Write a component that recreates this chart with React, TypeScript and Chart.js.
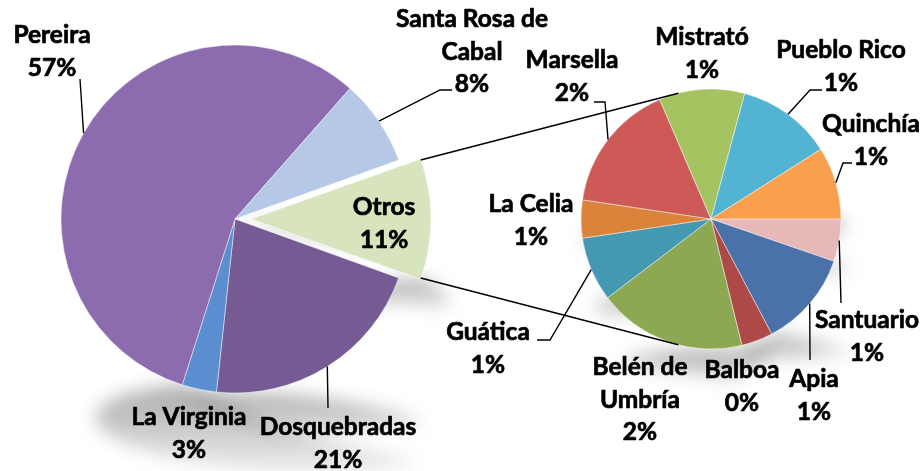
import React, { useEffect, useRef } from 'react';
import { Chart, registerables } from 'chart.js';

Chart.register(...registerables);

// ---------- data ----------
const mainCategories = ['Otros', 'Dosquebradas', 'La Virginia', 'Pereira', 'Santa Rosa de Cabal'];
const mainValues = [11.0, 21.2, 3.2, 56.6, 8.0];

const otherCategories = [
  'Santuario', 'Apia', 'Balboa', 'Belén de Umbría', 'Guática',
  'La Celia', 'Marsella', 'Mistrató', 'Pueblo Rico', 'Quinchía',
];
const otherValues = [0.58, 1.32, 0.43, 2.03, 0.88, 0.52, 1.78, 1.17, 1.30, 0.99];

// ---------- styles ----------
const mainColors = ['#D7E4BD', '#765A93', '#5A8ED0', '#8C6CAF', '#B5C8E6'];
const otherColors = [
  '#E6B8B7', '#4A72A8', '#AD4A47', '#8CA852', '#4498B2',
  '#D9843A', '#CE5A57', '#A5C461', '#52B4D2', '#F8A04E',
];

const FONT = 'Lato, "Open Sans", sans-serif';
const FW = 'bold';
const FS = 24.5;
const LH = 32.5;
const EXPLODE_PX = 22;

const nameBreaks: Record<string, string[]> = {
  'Santa Rosa de Cabal': ['Santa Rosa de', 'Cabal'],
  'Belén de Umbría': ['Belén de', 'Umbría'],
};

type LabelSpec = { x: number; y: number; leader?: number[][] };

// label layout (center x, first baseline y, optional leader elbow points)
const mainLabelLayout: LabelSpec[] = [
  { x: 384, y: 215 },
  { x: 338, y: 435, leader: [[328, 408]] },
  { x: 189, y: 425 },
  { x: 52, y: 43, leader: [[80, 79]] },
  { x: 472, y: 27, leader: [[452, 90], [440, 90]] },
];
const otherLabelLayout: LabelSpec[] = [
  { x: 867, y: 328, leader: [[841, 303]] },
  { x: 814, y: 387, leader: [[810, 360]] },
  { x: 742, y: 378 },
  { x: 640, y: 375 },
  { x: 488, y: 340, leader: [[537, 340], [550, 340]] },
  { x: 531, y: 212 },
  { x: 572, y: 68, leader: [[594, 102], [605, 102]] },
  { x: 702, y: 45 },
  { x: 841, y: 58, leader: [[822, 90], [810, 90]] },
  { x: 871, y: 132, leader: [[852, 163], [843, 163]] },
];

const sum = (a: number[]) => a.reduce((s, v) => s + v, 0);
const TOTAL = sum(mainValues);

function shadowPlugin(explodeIdx: number) {
  return {
    id: 'pshadow',
    beforeDatasetsDraw(chart: any) {
      const ctx: CanvasRenderingContext2D = chart.ctx;
      const meta = chart.getDatasetMeta(0);
      meta.data.forEach((el: any, i: number) => {
        const { x, y, startAngle, endAngle, outerRadius: r } = el;
        const mid = (startAngle + endAngle) / 2;
        const d = i === explodeIdx ? EXPLODE_PX : 0;
        const cx = x + Math.cos(mid) * d;
        const cy = y + Math.sin(mid) * d;
        const pts: number[][] = [[cx, cy]];
        const n = 48;
        for (let k = 0; k <= n; k++) {
          const a = startAngle + ((endAngle - startAngle) * k) / n;
          pts.push([cx + r * Math.cos(a), cy + r * Math.sin(a)]);
        }
        const top = Math.min(...pts.map((p) => p[1]));
        const bottom = Math.max(...pts.map((p) => p[1]));
        const K = 0.26;
        const S = 0.9;
        const tp = pts.map(([px, py]) => {
          const ny = bottom + (bottom - py) * K;
          return [px + (ny - bottom) * S, ny];
        });
        const far = bottom + (bottom - top) * K;
        ctx.save();
        ctx.filter = 'blur(9px)';
        const g = ctx.createLinearGradient(0, bottom, 0, far + 4);
        g.addColorStop(0, 'rgba(0,0,0,0.34)');
        g.addColorStop(1, 'rgba(0,0,0,0.05)');
        ctx.fillStyle = g;
        ctx.beginPath();
        tp.forEach(([px, py], k) => (k === 0 ? ctx.moveTo(px, py) : ctx.lineTo(px, py)));
        ctx.closePath();
        ctx.fill();
        ctx.restore();
      });
    },
  };
}

function labelPlugin(cats: string[], vals: number[], layout: LabelSpec[]) {
  return {
    id: 'plabels',
    afterDraw(chart: any) {
      const ctx: CanvasRenderingContext2D = chart.ctx;
      const meta = chart.getDatasetMeta(0);
      ctx.save();
      ctx.font = `${FW} ${FS}px ${FONT}`;
      ctx.fillStyle = '#000';
      ctx.textAlign = 'center';
      ctx.textBaseline = 'alphabetic';
      ctx.strokeStyle = '#000';
      cats.forEach((c, i) => {
        const spec = layout[i];
        const lines = [...(nameBreaks[c] || [c]), `${Math.round((vals[i] / TOTAL) * 100)}%`];
        ctx.lineWidth = 0.7;
        ctx.lineJoin = 'round';
        lines.forEach((t, j) => {
          ctx.fillText(t, spec.x, spec.y + j * LH);
          ctx.strokeText(t, spec.x, spec.y + j * LH);
        });
        if (spec.leader) {
          const el = meta.data[i];
          const mid = (el.startAngle + el.endAngle) / 2;
          const r = el.outerRadius;
          const p = [el.x + r * Math.cos(mid), el.y + r * Math.sin(mid)];
          ctx.lineWidth = 1.4;
          ctx.lineJoin = 'miter';
          ctx.beginPath();
          spec.leader.forEach(([lx, ly], k) => (k === 0 ? ctx.moveTo(lx, ly) : ctx.lineTo(lx, ly)));
          ctx.lineTo(p[0], p[1]);
          ctx.stroke();
        }
      });
      ctx.restore();
    },
  };
}

function connectorPlugin(getMain: () => any) {
  return {
    id: 'pconnect',
    afterDraw(chart: any) {
      const main = getMain();
      if (!main) return;
      const oel: any = main.getDatasetMeta(0).data[0];
      const el2: any = chart.getDatasetMeta(0).data[0];
      const C = [el2.x, el2.y];
      const R = el2.outerRadius;
      const mid = (oel.startAngle + oel.endAngle) / 2;
      const ox = oel.x + Math.cos(mid) * EXPLODE_PX;
      const oy = oel.y + Math.sin(mid) * EXPLODE_PX;
      const ctx: CanvasRenderingContext2D = chart.ctx;
      ctx.save();
      ctx.strokeStyle = '#000';
      ctx.lineWidth = 1.5;
      [oel.startAngle, oel.endAngle].forEach((ang: number, idx: number) => {
        const P = [ox + oel.outerRadius * Math.cos(ang), oy + oel.outerRadius * Math.sin(ang)];
        const dx = P[0] - C[0];
        const dy = P[1] - C[1];
        const dist = Math.hypot(dx, dy);
        const base = Math.atan2(dy, dx);
        const alpha = Math.acos(R / dist);
        const cands = [base + alpha, base - alpha].map((a) => [C[0] + R * Math.cos(a), C[1] + R * Math.sin(a)]);
        cands.sort((a, b) => a[1] - b[1]);
        const T = idx === 0 ? cands[0] : cands[1];
        ctx.beginPath();
        ctx.moveTo(P[0], P[1]);
        ctx.lineTo(T[0], T[1]);
        ctx.stroke();
      });
      ctx.restore();
    },
  };
}

export default function App() {
  const c1 = useRef<HTMLCanvasElement>(null);
  const c2 = useRef<HTMLCanvasElement>(null);

  useEffect(() => {
    const otrosCirc = (2 * Math.PI * mainValues[0]) / TOTAL;
    const factor = 0.25 * (2 - Math.sin(Math.min(Math.PI, otrosCirc)));
    const otrosOffset = EXPLODE_PX / factor;
    const mainRotation = 90 - (mainValues[0] / TOTAL) * 180;

    const chart1 = new Chart(c1.current!, {
      type: 'pie',
      data: {
        labels: mainCategories,
        datasets: [
          {
            data: mainValues,
            backgroundColor: mainColors,
            borderColor: 'rgba(255,255,255,0.45)',
            borderWidth: 1,
            offset: mainValues.map((_, i) => (i === 0 ? otrosOffset : 0)),
            radius: 174,
            rotation: mainRotation,
          } as any,
        ],
      },
      options: {
        responsive: false,
        animation: false,
        events: [],
        rotation: mainRotation,
        layout: { padding: { left: 0, right: 454, top: 0, bottom: 33 } },
        plugins: { legend: { display: false }, tooltip: { enabled: false } },
      } as any,
      plugins: [shadowPlugin(0), labelPlugin(mainCategories, mainValues, mainLabelLayout)],
    });

    const chart2 = new Chart(c2.current!, {
      type: 'pie',
      data: {
        labels: otherCategories,
        datasets: [
          {
            data: otherValues,
            backgroundColor: otherColors,
            borderColor: 'rgba(255,255,255,0.45)',
            borderWidth: 1,
            radius: 130,
            rotation: 90,
          } as any,
        ],
      },
      options: {
        responsive: false,
        animation: false,
        events: [],
        rotation: 90,
        layout: { padding: { left: 498, right: 0, top: 0, bottom: 33 } },
        plugins: { legend: { display: false }, tooltip: { enabled: false } },
      } as any,
      plugins: [
        shadowPlugin(-1),
        labelPlugin(otherCategories, otherValues, otherLabelLayout),
        connectorPlugin(() => chart1),
      ],
    });

    const fonts: any = (document as any).fonts;
    if (fonts && fonts.load) {
      fonts.load(`${FW} ${FS}px Lato`).then(() => {
        chart1.draw();
        chart2.draw();
      }).catch(() => {});
    }

    return () => {
      chart1.destroy();
      chart2.destroy();
    };
  }, []);

  const cs: React.CSSProperties = { position: 'absolute', left: 0, top: 0, width: 924, height: 471 };
  return (
    <div style={{ position: 'absolute', left: 0, top: 0, width: 924, height: 471, background: '#fff' }}>
      <canvas ref={c1} width={924} height={471} style={cs} />
      <canvas ref={c2} width={924} height={471} style={cs} />
    </div>
  );
}
